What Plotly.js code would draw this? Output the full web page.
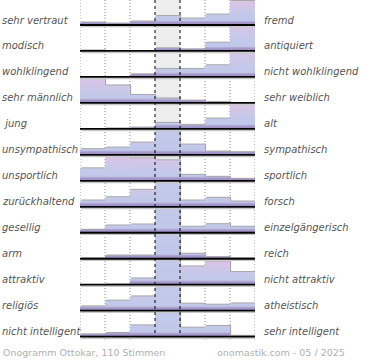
<!DOCTYPE html>
<html>
<head>
<meta charset="utf-8">
<script src="https://cdn.plot.ly/plotly-3.0.1.min.js"></script>
<style>html,body{margin:0;padding:0;background:#fff;}#chart{width:370px;height:360px;}</style>
</head>
<body>
<div id="chart"></div>
<script>
// Semantic differential: left pole, right pole, 7 answer columns per row
const leftLabels = ['sehr vertraut','modisch','wohlklingend','sehr männlich',' jung','unsympathisch','unsportlich','zurückhaltend','gesellig','arm','attraktiv','religiös','nicht intelligent'];
const rightLabels = ['fremd','antiquiert','nicht wohlklingend','sehr weiblich','alt','sympathisch','sportlich','forsch','einzelgängerisch','reich','nicht attraktiv','atheistisch','sehr intelligent'];
const columns = [0,1,2,3,4,5,6];
// bar heights per row (relative share; bars taller than the row are cut off)
const vertraut   = [2.5, 1.5, 3.5, 9, 6.5, 10.5, 25];
const modisch    = [0.5, 0, 0, 2.7, 1.7, 8.3, 28];
const wohlkl     = [0, 0, 2.7, 8, 8, 11.7, 28];
const maennlich  = [25, 17.5, 8, 4.5, 2.3, 1, 0];
const jung       = [0, 0.5, 1.3, 6, 4, 10.3, 25];
const unsymp     = [5.7, 7.3, 12.3, 60, 10.3, 3.3, 2.7];
const unsport    = [12.5, 25, 22.5, 20.5, 6, 4, 2];
const zurueck    = [6.3, 9.6, 17, 60, 6.3, 9, 5.3];
const gesellig   = [3, 7.3, 8.3, 60, 6, 8.6, 6];
const arm        = [0.5, 3.2, 3.2, 60, 5, 1.7, 0.5];
const attraktiv  = [0, 0.3, 6.3, 60, 18.3, 23.3, 12.7];
const religioes  = [4.3, 10, 14.3, 60, 7, 6, 7.3];
const intelligent= [2.3, 3.7, 11.3, 60, 9, 10.7, 0.8];
const rows = [vertraut, modisch, wohlkl, maennlich, jung, unsymp, unsport, zurueck, gesellig, arm, attraktiv, religioes, intelligent];
const footerLeft = 'Onogramm Ottokar, 110 Stimmen';
const footerRight = 'onomastik.com - 05 / 2025';

const ROWSTEP = 25.97, CAP = 24, TOP = 25;
const traces = [], shapes = [], annotations = [];
const baseOf = r => -r * ROWSTEP;
const lastBase = baseOf(rows.length - 1);
const labelFont = {family:'DejaVu Sans', size:10, color:'#555', style:'italic'};

rows.forEach((vals, r) => {
  const b = baseOf(r);
  vals.forEach((v, i) => {
    if (v <= 0) return;
    const h = Math.min(v, CAP);
    const g = Math.max(v, CAP);
    const x0 = columns[i] - 0.5, x1 = columns[i] + 0.5;
    const sx = 0.045, sy = 1;
    traces.push({type:'scatter', mode:'lines', fill:'toself', hoverinfo:'skip',
      x:[x0+sx, x1+sx, x1+sx, x0+sx, x0+sx], y:[b, b, b+h+sy, b+h+sy, b],
      line:{width:0}, fillcolor:'#a8a8a8'});
    traces.push({type:'scatter', mode:'lines', fill:'toself', hoverinfo:'skip',
      x:[x0, x1, x1, x0, x0], y:[b, b, b+h, b+h, b],
      line:{width:0},
      fillgradient:{type:'vertical', start:b, stop:b+g,
        colorscale:[[0,'#9486be'],[3/g,'#aa9ecd'],[4.5/g,'#c1c7e9'],[0.4,'#c3c9ea'],[1,'#ddc3e5']]}});
  });
  shapes.push({type:'line', xref:'x', yref:'y', x0:-0.5+0.04, x1:6.5+0.04, y0:b-1.6, y1:b-1.6, line:{color:'#c8c8c8', width:1.5}, layer:'above'});
  shapes.push({type:'line', xref:'x', yref:'y', x0:-0.5, x1:6.5, y0:b, y1:b, line:{color:'#000', width:1.8}, layer:'above'});
  annotations.push({xref:'x', yref:'y', x:-0.5, xshift:-80, xanchor:'left', y:b+5, yanchor:'middle', showarrow:false,
    text:leftLabels[r].replace(/^ /,'&nbsp;'), font:labelFont});
  annotations.push({xref:'x', yref:'y', x:6.5, xshift:7, xanchor:'left', y:b+5, yanchor:'middle', showarrow:false,
    text:rightLabels[r], font:labelFont});
});

shapes.unshift({type:'rect', xref:'x', yref:'y', x0:2.5, x1:3.5, y0:TOP, y1:lastBase, fillcolor:'#ededee', line:{width:0}, layer:'below'});
[-0.5, 0.5, 1.5, 4.5, 5.5, 6.5].forEach(x => {
  shapes.push({type:'line', xref:'x', yref:'y', x0:x, x1:x, y0:TOP, y1:lastBase-3, line:{color:'#8a8a8a', width:1, dash:'1px,2px'}, layer:'below'});
});
[2.5, 3.5].forEach(x => {
  shapes.push({type:'line', xref:'x', yref:'y', x0:x, x1:x, y0:TOP, y1:lastBase, line:{color:'#000', width:1, dash:'3px,3px'}, layer:'above'});
});

annotations.push({xref:'paper', yref:'y', x:-80/175, xshift:1, xanchor:'left', y:TOP-352, yanchor:'middle', showarrow:false,
  text:footerLeft, font:{family:'DejaVu Sans', size:9.5, color:'#b0b0b0'}});
annotations.push({xref:'paper', yref:'y', x:(347-80)/175, xanchor:'right', y:TOP-352, yanchor:'middle', showarrow:false,
  text:footerRight, font:{family:'DejaVu Sans', size:9.5, color:'#b0b0b0'}});

Plotly.newPlot('chart', traces, {
  width:370, height:360, margin:{l:80, r:115, t:0, b:0, pad:0},
  paper_bgcolor:'#fff', plot_bgcolor:'rgba(0,0,0,0)', showlegend:false,
  xaxis:{range:[-0.5,6.5], visible:false, fixedrange:true},
  yaxis:{range:[TOP-360, TOP], visible:false, fixedrange:true},
  shapes:shapes, annotations:annotations
}, {staticPlot:true, displayModeBar:false});
</script>
</body>
</html>
